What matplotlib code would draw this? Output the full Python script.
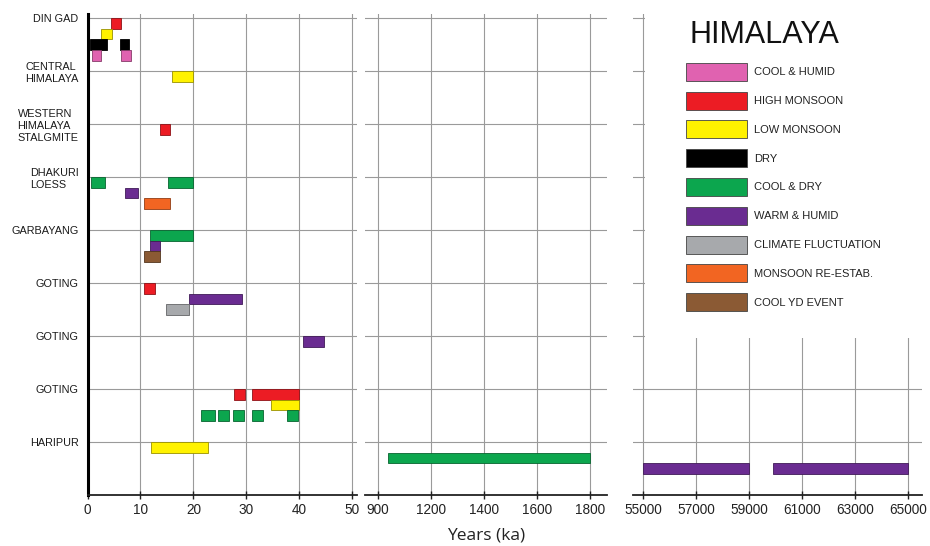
import matplotlib
matplotlib.use('Agg')
import matplotlib.pyplot as plt
from matplotlib.patches import Patch, Rectangle
from matplotlib.colors import to_rgb

# site rows, top to bottom
sites = ['DIN GAD', 'CENTRAL\nHIMALAYA', 'WESTERN\nHIMALAYA\nSTALGMITE', 'DHAKURI\nLOESS',
         'GARBAYANG', 'GOTING', 'GOTING', 'GOTING', 'HARIPUR']

kinds = ['COOL & HUMID', 'HIGH MONSOON', 'LOW MONSOON', 'DRY', 'COOL & DRY',
         'WARM & HUMID', 'CLIMATE FLUCTUATION', 'MONSOON RE-ESTAB.', 'COOL YD EVENT']
kind_colors = ['#e062b0', '#ec1c24', '#fff200', '#000000', '#0ca64e',
               '#6a2c91', '#a7a9ac', '#f26522', '#8b5a34']

# left panel, 0-50 ka
left_site = [0, 0, 0, 0, 0, 0, 1, 2, 3, 3, 3, 3, 4, 4, 4, 5, 5, 5, 6,
             7, 7, 7, 7, 7, 7, 7, 7, 8]
left_slot = [0, 1, 2, 2, 3, 3, 0, 0, 0, 0, 1, 2, 0, 1, 2, 0, 1, 2, 0,
             0, 0, 1, 2, 2, 2, 2, 2, 0]
left_kind = [1, 2, 3, 3, 0, 0, 2, 1, 4, 4, 5, 7, 4, 5, 8, 1, 5, 6, 5,
             1, 1, 2, 4, 4, 4, 4, 4, 2]
left_start = [4.4, 2.6, 0.5, 6.1, 0.8, 6.3, 16.0, 13.7, 0.7, 15.2, 7.1, 10.6, 11.8, 11.8, 10.6,
              10.6, 19.2, 14.8, 40.7, 27.7, 31.1, 34.6, 21.4, 24.6, 27.5, 31.1, 37.6, 12.0]
left_end = [6.3, 4.6, 3.7, 7.9, 2.6, 8.3, 20.0, 15.6, 3.3, 20.0, 9.5, 15.5, 20.0, 13.7, 13.7,
            12.7, 29.1, 19.2, 44.6, 29.8, 40.0, 39.9, 24.1, 26.7, 29.6, 33.2, 39.7, 22.8]

# middle panel, ticks evenly spaced (first one printed as 900)
mid_ticks = [1000, 1200, 1400, 1600, 1800]
mid_ticklabels = ['900', '1200', '1400', '1600', '1800']
mid_site = [8]
mid_slot = [1]
mid_kind = [4]
mid_start = [1040]
mid_end = [1800]

# right panel
right_ticks = [55000, 57000, 59000, 61000, 63000, 65000]
right_site = [8, 8]
right_slot = [2, 2]
right_kind = [5, 5]
right_start = [55000, 59900]
right_end = [59000, 65000]

W, H = 930, 546
SLOT = 0.2
GRID = '#9a9a9a'
narrow = ['Liberation Sans Narrow', 'Liberation Sans']


def darker(c, f=0.6):
    r, g, b = to_rgb(c)
    return (r * f, g * f, b * f)


def draw_bars(ax, site, slot, kind, start, end):
    for s, sl, k, a, b in zip(site, slot, kind, start, end):
        y = 9 - s - sl * SLOT - SLOT / 2
        ax.barh(y, b - a, left=a, height=SLOT, color=kind_colors[k],
                edgecolor=darker(kind_colors[k]), linewidth=0.6, zorder=2)


def style_axis(ax, ticks, labels=None):
    ax.set_ylim(0, 9.08)
    ax.set_yticks(range(1, 10))
    ax.set_xticks(ticks)
    if labels is not None:
        ax.set_xticklabels(labels)
    ax.set_axisbelow(True)
    ax.grid(True, color=GRID, linewidth=0.8)
    for side in ['top', 'right']:
        ax.spines[side].set_visible(False)
    ax.spines['bottom'].set_color('#222222')
    ax.spines['bottom'].set_linewidth(1.3)
    ax.tick_params(axis='x', direction='inout', length=6, width=1, color='#222222',
                   labelsize=9.8, pad=3, labelcolor='#222222')
    for lbl in ax.get_xticklabels():
        lbl.set_family(narrow)


fig = plt.figure(figsize=(W / 100, H / 100), dpi=100)
bottom = (H - 495) / H
height = 481 / H
ax_l = fig.add_axes([87.5 / W, bottom, 269.3 / W, height])
ax_m = fig.add_axes([365 / W, bottom, 241.7 / W, height])
ax_r = fig.add_axes([632.7 / W, bottom, 289 / W, height])

# left
style_axis(ax_l, [0, 10, 20, 30, 40, 50])
ax_l.set_xlim(0, 50.85)
ax_l.set_yticks([9 - i for i in range(len(sites))])
ax_l.set_yticklabels(sites)
ax_l.tick_params(axis='y', length=0, pad=6.5, labelsize=7.8, labelcolor='#1a1a1a')
for lbl in ax_l.get_yticklabels():
    lbl.set_family('Liberation Sans')
    lbl.set_multialignment('left')
    lbl.set_linespacing(1.25)
ax_l.spines['left'].set_color('black')
ax_l.spines['left'].set_linewidth(2.2)
draw_bars(ax_l, left_site, left_slot, left_kind, left_start, left_end)

# middle
style_axis(ax_m, mid_ticks, mid_ticklabels)
ax_m.set_xlim(952, 1863)
ax_m.spines['left'].set_visible(False)
ax_m.tick_params(axis='y', left=False, labelleft=False)
draw_bars(ax_m, mid_site, mid_slot, mid_kind, mid_start, mid_end)

# right
style_axis(ax_r, right_ticks)
ax_r.set_xlim(54600, 65530)
ax_r.spines['left'].set_visible(False)
ax_r.tick_params(axis='y', left=False, labelleft=False)
draw_bars(ax_r, right_site, right_slot, right_kind, right_start, right_end)

# white area behind the legend
ax_r.add_patch(Rectangle((55070, 2.97), 12000, 7, facecolor='white',
                         edgecolor='none', zorder=1.5))

handles = [Patch(facecolor=c, edgecolor='#444444', linewidth=0.6, label=k)
           for k, c in zip(kinds, kind_colors)]
ax_r.legend(handles=handles, loc='upper left',
            bbox_to_anchor=(685.7 / W, 1 - 62.7 / H), bbox_transform=fig.transFigure,
            frameon=False, borderpad=0, borderaxespad=0, handlelength=5.55,
            handleheight=2.12, labelspacing=0.97, handletextpad=0.6,
            prop={'family': narrow, 'size': 8}, labelcolor='#222222')

fig.text(764 / W, 1 - 35 / H, 'HIMALAYA', ha='center', va='center',
         fontsize=22, family='Liberation Sans', color='#111111')
fig.text(486 / W, 1 - 536 / H, 'Years (ka)', ha='center', va='center',
         fontsize=12.5, family='Open Sans', color='#222222')

fig.savefig('out.png', dpi=100)
